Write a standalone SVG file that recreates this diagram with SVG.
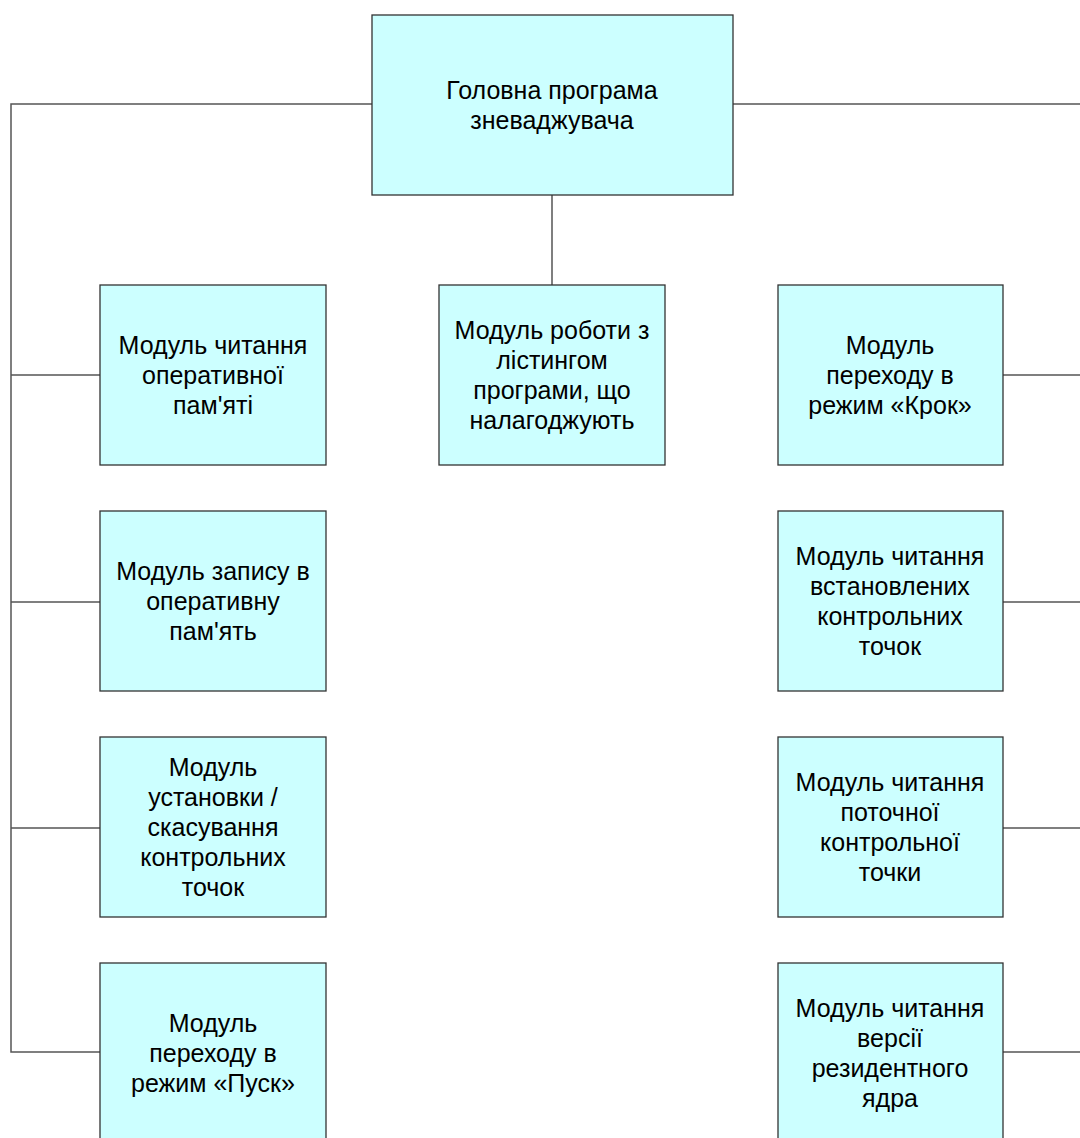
<svg xmlns="http://www.w3.org/2000/svg" width="1080" height="1138" viewBox="0 0 1080 1138">
<style>
.box{fill:#CCFFFF;stroke:#333;stroke-width:1.3}
.t{font-family:"Liberation Sans",Arial,sans-serif;font-size:25px;fill:#000;text-anchor:middle}
.c{stroke:#555;stroke-width:1.5;fill:none}
</style>
<rect width="1080" height="1138" fill="#fff"/>
<g id="connectors">
<path class="c" d="M372,104 H11 V1052 H100"/>
<path class="c" d="M11,375 H100 M11,602 H100 M11,828 H100"/>
<path class="c" d="M733,104 H1080"/>
<path class="c" d="M552,195 V285"/>
<path class="c" d="M1003,375 H1080 M1003,602 H1080 M1003,828 H1080 M1003,1052 H1080"/>
</g>
<g id="main"><rect class="box" x="372" y="15" width="361" height="180"/>
<text class="t" x="552" y="99">Головна програма</text><text class="t" x="552" y="129">зневаджувача</text></g>
<g id="listing"><rect class="box" x="439" y="285" width="226" height="180"/>
<text class="t" x="552" y="339">Модуль роботи з</text><text class="t" x="552" y="369">лістингом</text><text class="t" x="552" y="399">програми, що</text><text class="t" x="552" y="429">налагоджують</text></g>
<g id="l1"><rect class="box" x="100" y="285" width="226" height="180"/>
<text class="t" x="213" y="354">Модуль читання</text><text class="t" x="213" y="384">оперативної</text><text class="t" x="213" y="414">пам'яті</text></g>
<g id="l2"><rect class="box" x="100" y="511" width="226" height="180"/>
<text class="t" x="213" y="580">Модуль запису в</text><text class="t" x="213" y="610">оперативну</text><text class="t" x="213" y="640">пам'ять</text></g>
<g id="l3"><rect class="box" x="100" y="737" width="226" height="180"/>
<text class="t" x="213" y="776">Модуль</text><text class="t" x="213" y="806">установки /</text><text class="t" x="213" y="836">скасування</text><text class="t" x="213" y="866">контрольних</text><text class="t" x="213" y="896">точок</text></g>
<g id="l4"><rect class="box" x="100" y="963" width="226" height="180"/>
<text class="t" x="213" y="1032">Модуль</text><text class="t" x="213" y="1062">переходу в</text><text class="t" x="213" y="1092">режим «Пуск»</text></g>
<g id="r1"><rect class="box" x="778" y="285" width="225" height="180"/>
<text class="t" x="890" y="354">Модуль</text><text class="t" x="890" y="384">переходу в</text><text class="t" x="890" y="414">режим «Крок»</text></g>
<g id="r2"><rect class="box" x="778" y="511" width="225" height="180"/>
<text class="t" x="890" y="565">Модуль читання</text><text class="t" x="890" y="595">встановлених</text><text class="t" x="890" y="625">контрольних</text><text class="t" x="890" y="655">точок</text></g>
<g id="r3"><rect class="box" x="778" y="737" width="225" height="180"/>
<text class="t" x="890" y="791">Модуль читання</text><text class="t" x="890" y="821">поточної</text><text class="t" x="890" y="851">контрольної</text><text class="t" x="890" y="881">точки</text></g>
<g id="r4"><rect class="box" x="778" y="963" width="225" height="180"/>
<text class="t" x="890" y="1017">Модуль читання</text><text class="t" x="890" y="1047">версії</text><text class="t" x="890" y="1077">резидентного</text><text class="t" x="890" y="1107">ядра</text></g>
</svg>
